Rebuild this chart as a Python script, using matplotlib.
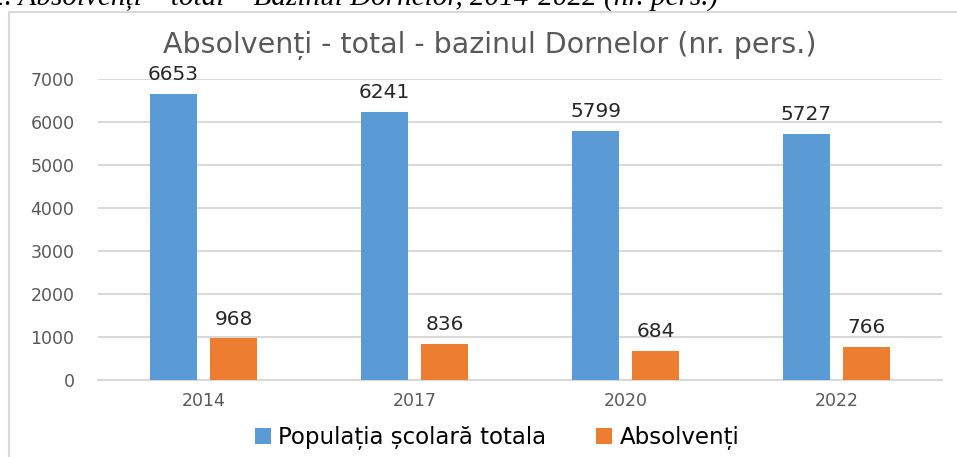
import numpy as np
import matplotlib.pyplot as plt
from matplotlib.patches import Rectangle

# data
years = ['2014', '2017', '2020', '2022']
populatia = [6653, 6241, 5799, 5727]
absolventi = [968, 836, 684, 766]
series_names = ['Populația școlară totala', 'Absolvenți']

blue = '#5b9bd5'
orange = '#ed7d31'
grid_col = '#d9d9d9'
txt_gray = '#595959'

W, H = 957, 457
fig = plt.figure(figsize=(W / 100, H / 100), dpi=100)

# outer chart border (runs off the right and bottom of the picture)
fig.patches.append(Rectangle((9 / W, -0.1), 1.2, (H - 12) / H + 0.1,
                             transform=fig.transFigure, fill=False,
                             edgecolor=grid_col, linewidth=1.5))

# caption above the chart, cut by the top edge as in the source
fig.text(718 / W, 1 - 5 / H, 'Fig. 2. Absolvenți – total – Bazinul Dornelor, 2014-2022 (nr. pers.)',
         ha='right', va='baseline', family='Liberation Serif', style='italic',
         fontsize=21, color='black')

ax = fig.add_axes([98 / W, 1 - 380 / H, (942 - 98) / W, (380 - 79) / H])

x = np.arange(len(years))
w = 0.223
off = 0.142
b1 = ax.bar(x - off, populatia, w, color=blue, label=series_names[0], zorder=3)
b2 = ax.bar(x + off, absolventi, w, color=orange, label=series_names[1], zorder=3)

for bars, vals in ((b1, populatia), (b2, absolventi)):
    for r, v in zip(bars, vals):
        ax.annotate(str(v), (r.get_x() + r.get_width() / 2, v), xytext=(0, 7),
                    textcoords='offset points', ha='center', va='bottom',
                    fontsize=14.5, color='#262626', zorder=4)

ax.set_xlim(-0.5, 3.5)
ax.set_ylim(0, 7000)
ax.set_yticks(range(0, 7001, 1000))
ax.set_xticks(x)
ax.set_xticklabels(years)
ax.yaxis.grid(True, color=grid_col, linewidth=1.5, zorder=0)
ax.set_axisbelow(True)
for s in ('top', 'right', 'left'):
    ax.spines[s].set_visible(False)
ax.spines['bottom'].set_color(grid_col)
ax.spines['bottom'].set_linewidth(1.5)
ax.tick_params(axis='both', length=0, labelsize=12.5, labelcolor=txt_gray)
ax.tick_params(axis='y', pad=17)
ax.tick_params(axis='x', pad=9)

fig.text(490 / W, 1 - 45 / H, 'Absolvenți - total - bazinul Dornelor (nr. pers.)',
         ha='center', va='center', fontsize=20.5, color=txt_gray)

fig.legend(loc='center', bbox_to_anchor=(497 / W, 1 - 438 / H), ncol=2,
           frameon=False, fontsize=16.5, handlelength=0.7, handleheight=0.7,
           handletextpad=0.3, columnspacing=2.2)

fig.savefig('out.png', dpi=100)
